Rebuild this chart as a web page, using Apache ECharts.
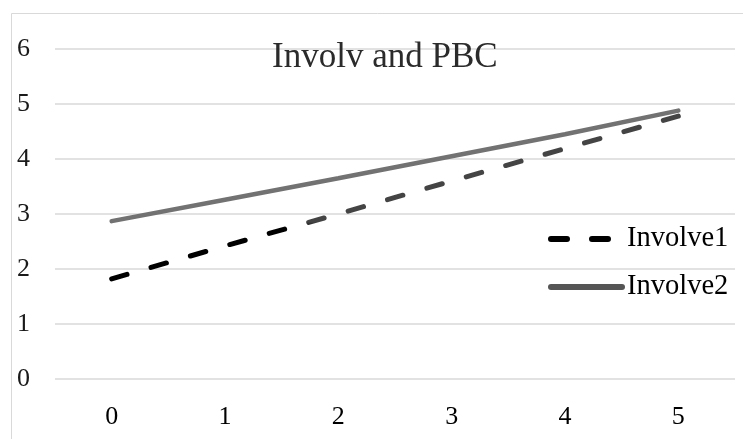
<!DOCTYPE html>
<html>
<head>
<meta charset="utf-8">
<script src="https://cdn.jsdelivr.net/npm/echarts@6/dist/echarts.min.js"></script>
<style>
html,body{margin:0;padding:0;background:#fff;}
#chart{width:743px;height:439px;}
</style>
</head>
<body>
<div id="chart"></div>
<script>
var titleText = 'Involv and PBC';
var categories = ['0', '1', '2', '3', '4', '5'];
var involve1 = [1.82, 2.42, 3.00, 3.60, 4.19, 4.78];
var involve2 = [2.87, 3.26, 3.65, 4.05, 4.45, 4.88];
var seriesNames = ['Involve1', 'Involve2'];

var FONT = '"Liberation Serif", "Times New Roman", serif';
var chart = echarts.init(document.getElementById('chart'), null, {renderer: 'canvas'});

var dashedColor = {
  type: 'linear', x: 0, y: 0, x2: 0, y2: 439, global: true,
  colorStops: [
    {offset: 0, color: '#444444'},
    {offset: 222 / 439, color: '#444444'},
    {offset: 228 / 439, color: '#000000'},
    {offset: 1, color: '#000000'}
  ]
};

chart.setOption({
  backgroundColor: '#ffffff',
  animation: false,
  title: {
    text: titleText,
    left: 272,
    top: 40,
    padding: 0,
    textStyle: {fontFamily: FONT, fontSize: 35, fontWeight: 'normal', color: '#2b2b2b'}
  },
  graphic: [{
    type: 'rect',
    shape: {x: 11.5, y: 13.5, width: 800, height: 500},
    style: {fill: 'none', stroke: '#d9d9d9', lineWidth: 1},
    silent: true,
    z: -1
  }],
  legend: {
    orient: 'vertical',
    left: 548,
    top: 224,
    padding: 0,
    itemWidth: 71,
    itemHeight: 30,
    itemGap: 18,
    textStyle: {fontFamily: FONT, fontSize: 28.5, color: '#000', lineHeight: 30},
    data: [
      {name: seriesNames[0], itemStyle: {opacity: 0}, lineStyle: {color: '#000', width: 6, type: 'inherit', cap: 'round'}},
      {name: seriesNames[1], itemStyle: {opacity: 0}, lineStyle: {color: '#555', width: 6, type: 'solid', cap: 'round'}}
    ]
  },
  grid: {left: 55, right: 8, top: 49, bottom: 60, containLabel: false},
  xAxis: {
    type: 'category',
    data: categories,
    boundaryGap: true,
    axisLine: {show: false},
    axisTick: {show: false},
    axisLabel: {fontFamily: FONT, fontSize: 26, color: '#000', margin: 25}
  },
  yAxis: {
    type: 'value',
    min: 0, max: 6, interval: 1,
    axisLine: {show: false},
    axisTick: {show: false},
    axisLabel: {fontFamily: FONT, fontSize: 26, color: '#1a1a1a', margin: 25, align: 'right'},
    splitLine: {lineStyle: {color: '#d9d9d9', width: 1.5}}
  },
  series: [
    {
      name: seriesNames[0], type: 'line', data: involve1, symbol: 'none',
      lineStyle: {color: dashedColor, width: 5, type: [16, 25], cap: 'round'},
      itemStyle: {color: '#000'}
    },
    {
      name: seriesNames[1], type: 'line', data: involve2, symbol: 'none',
      lineStyle: {color: '#727272', width: 4.5, type: 'solid', cap: 'round'},
      itemStyle: {color: '#555'}
    }
  ]
});
</script>
</body>
</html>
